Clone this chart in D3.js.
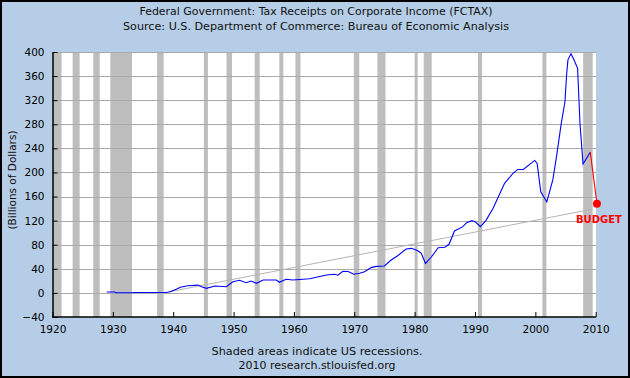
<!DOCTYPE html>
<html>
<head>
<meta charset="utf-8">
<script src="https://cdn.jsdelivr.net/npm/d3@7/dist/d3.min.js"></script>
<style>
  html, body { margin: 0; padding: 0; background: #B5CDE6; }
  svg { display: block; }
  text { font-family: "DejaVu Sans", Verdana, sans-serif; }
</style>
</head>
<body>
<svg id="chart" width="630" height="378"></svg>
<script>
// ---- data ----
const titleLines = [
  "Federal Government: Tax Receipts on Corporate Income (FCTAX)",
  "Source: U.S. Department of Commerce: Bureau of Economic Analysis"
];
const footLines = ["Shaded areas indicate US recessions.", "2010 research.stlouisfed.org"];
const yLabel = "(Billions of Dollars)";
const xTicks = [1920, 1930, 1940, 1950, 1960, 1970, 1980, 1990, 2000, 2010];
const yTicks = [-40, 0, 40, 80, 120, 160, 200, 240, 280, 320, 360, 400];

// recessions [start, end] in decimal years
const recessions = [
  [1920.0, 1921.5], [1923.33, 1924.5], [1926.75, 1927.83], [1929.58, 1933.17],
  [1937.33, 1938.42], [1945.08, 1945.75], [1948.83, 1949.75], [1953.5, 1954.33],
  [1957.58, 1958.25], [1960.25, 1961.08], [1969.92, 1970.83], [1973.83, 1975.17],
  [1980.0, 1980.5], [1981.5, 1982.83], [1990.5, 1991.17], [2001.17, 2001.83],
  [2007.92, 2009.5]
];

// FCTAX, billions of dollars
const fctaxYears = [
  1929.0, 1930.3, 1930.5, 1933.3, 1933.5, 1938.8, 1939.5, 1940.5, 1941.2, 1942.4,
  1944.1, 1944.7, 1945.5, 1946.9, 1948.8, 1949.9, 1951.0, 1952.1, 1952.9, 1953.8,
  1954.9, 1957.1, 1957.6, 1958.7, 1959.8, 1962.6, 1965.4, 1966.7, 1967.3, 1968.1,
  1969.0, 1969.9, 1970.9, 1971.7, 1972.8, 1973.6, 1975.0, 1976.1, 1977.2, 1978.6,
  1979.5, 1980.6, 1981.1, 1981.8, 1982.8, 1983.9, 1985.0, 1985.7, 1986.6, 1988.0,
  1988.6, 1989.5, 1990.1, 1990.9, 1991.8, 1993.0, 1994.9, 1996.3, 1997.1, 1998.0,
  1999.9, 2000.3, 2000.9, 2001.9, 2002.9, 2003.5, 2004.3, 2004.9, 2005.2, 2005.4,
  2005.9, 2006.4, 2007.0, 2007.4, 2007.9, 2009.1
];
const fctaxValues = [
  1.4, 1.4, 0.3, 0.3, 0.8, 0.8, 2, 6, 9.5, 12,
  13, 10.3, 7.6, 11.5, 10.3, 18.6, 21, 17, 19.8, 16,
  21.4, 21.4, 17.6, 22.6, 21.4, 23.6, 29.7, 31, 29.3, 35.9,
  35.5, 31, 32.5, 35.2, 42, 44, 44.7, 54.6, 61.8, 72.9,
  74, 69.6, 65.7, 49, 60, 75, 75.7, 80.7, 102.8, 110,
  116.6, 120, 117.7, 110, 120, 140.5, 182, 198.6, 205, 205,
  220, 215, 168, 151, 188, 226, 282, 317, 365, 387,
  397, 387, 373, 281, 214, 233.5
];

// budget projection (red)
const budgetYears = [2009.1, 2010.2];
const budgetValues = [233.5, 149];

// gray trend line
const trendYears = [1939.2, 2009.4];
const trendValues = [1.5, 139];

// ---- drawing ----
const svg = d3.select("#chart");
const W = 630, H = 378;
const x = d3.scaleLinear().domain([1920, 2010]).range([52.5, 595.7]);
const y = d3.scaleLinear().domain([-40, 400]).range([317, 52]);
const plotRight = 596;

svg.append("rect").attr("x", 0).attr("y", 0).attr("width", W).attr("height", H).attr("fill", "#B5CDE6");
svg.append("rect").attr("x", 1).attr("y", 1).attr("width", W - 2).attr("height", H - 2)
  .attr("fill", "none").attr("stroke", "#000").attr("stroke-width", 2);

// plot area
svg.append("rect").attr("x", x(1920)).attr("y", y(400))
  .attr("width", plotRight - x(1920)).attr("height", y(-40) - y(400)).attr("fill", "#fff");

// recessions
svg.append("g").selectAll("rect").data(recessions).join("rect")
  .attr("x", d => x(d[0])).attr("y", y(400))
  .attr("width", d => x(d[1]) - x(d[0])).attr("height", y(-40) - y(400))
  .attr("fill", "#BEBEBE");

// grid
svg.append("g").selectAll("line").data(yTicks.filter(v => v > -40)).join("line")
  .attr("x1", x(1920)).attr("x2", plotRight)
  .attr("y1", d => Math.round(y(d)) + 0.5).attr("y2", d => Math.round(y(d)) + 0.5)
  .attr("stroke", "#AAAAAA").attr("stroke-width", 1);

// trend line
const trend = trendYears.map((t, i) => [t, trendValues[i]]);
svg.append("path").datum(trend)
  .attr("d", d3.line().x(d => x(d[0])).y(d => y(d[1])))
  .attr("fill", "none").attr("stroke", "#B4B4B4").attr("stroke-width", 1);

// axes
const xAxis = d3.axisBottom(x).tickValues(xTicks).tickFormat(d3.format("d")).tickSizeInner(-5).tickSizeOuter(0).tickPadding(9);
const gx = svg.append("g").attr("transform", `translate(0,${y(-40)})`).call(xAxis);
const yAxis = d3.axisLeft(y).tickValues(yTicks).tickSizeInner(-5).tickSizeOuter(0).tickPadding(8);
const gy = svg.append("g").attr("transform", `translate(${x(1920)},0)`).call(yAxis);
[gx, gy].forEach(g => {
  g.selectAll(".domain").attr("stroke", "#000").attr("stroke-width", 1.5);
  g.selectAll(".tick line").attr("stroke", "#000");
  g.selectAll("text").attr("font-family", "DejaVu Sans, Verdana, sans-serif").attr("font-size", 10.5).attr("fill", "#000");
});
gx.select(".domain").attr("d", `M${x(1920)},0H${plotRight}`);

// series
const series = fctaxYears.map((t, i) => [t, fctaxValues[i]]);
svg.append("path").datum(series)
  .attr("d", d3.line().x(d => x(d[0])).y(d => y(d[1])))
  .attr("fill", "none").attr("stroke", "#0000FF").attr("stroke-width", 1.1);

const budget = budgetYears.map((t, i) => [t, budgetValues[i]]);
svg.append("path").datum(budget)
  .attr("d", d3.line().x(d => x(d[0])).y(d => y(d[1])))
  .attr("fill", "none").attr("stroke", "#FF0000").attr("stroke-width", 1.1);
const last = budget[budget.length - 1];
svg.append("circle").attr("cx", x(last[0])).attr("cy", y(last[1]) + 0.5).attr("r", 4).attr("fill", "#FF0000");
svg.append("text").attr("x", x(last[0]) + 2).attr("y", y(last[1]) + 19.5)
  .attr("text-anchor", "middle").attr("font-family", "Liberation Sans, Arial, sans-serif")
  .attr("font-weight", "bold").attr("font-size", 10).attr("fill", "#FF0000").text("BUDGET");

// titles (widths matched to the reference)
const titleWidths = [353, 386];
svg.append("g").selectAll("text").data(titleLines).join("text")
  .attr("x", 316).attr("y", (d, i) => 15 + i * 14.5)
  .attr("text-anchor", "middle").attr("font-size", 10.5).attr("fill", "#111")
  .attr("textLength", (d, i) => titleWidths[i]).attr("lengthAdjust", "spacingAndGlyphs")
  .text(d => d);

const footWidths = [211, 157];
svg.append("g").selectAll("text").data(footLines).join("text")
  .attr("x", 317).attr("y", (d, i) => 355 + i * 13.5)
  .attr("text-anchor", "middle").attr("font-size", 11).attr("fill", "#111")
  .attr("textLength", (d, i) => footWidths[i]).attr("lengthAdjust", "spacingAndGlyphs")
  .text(d => d);

svg.append("text").attr("transform", "translate(16,180) rotate(-90)")
  .attr("text-anchor", "middle").attr("font-size", 10.5).attr("fill", "#111").text(yLabel);
</script>
</body>
</html>
